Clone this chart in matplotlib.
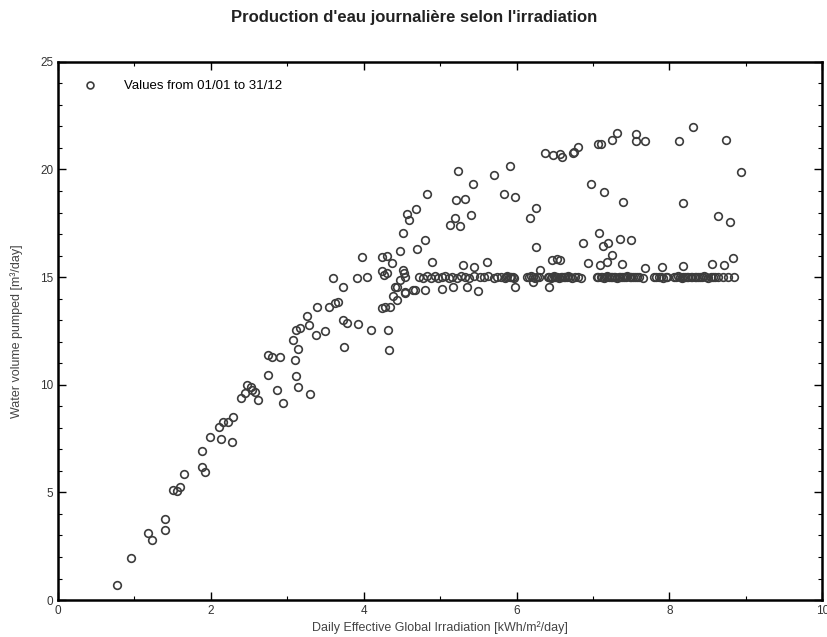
import matplotlib.pyplot as plt
from matplotlib.ticker import MultipleLocator

plt.rcParams['font.family'] = ['Liberation Sans', 'DejaVu Sans']

# rising part of the cloud (pump not yet saturated)
rise_x = [0.77, 0.96, 1.18, 1.23, 1.40, 1.40, 1.50, 1.56, 1.60, 1.65,
          1.89, 1.89, 1.92, 1.99, 2.13, 2.28, 2.11, 2.16, 2.23, 2.29,
          2.40, 2.47, 2.53, 2.58, 2.62, 2.54, 2.45, 2.86, 2.94, 2.75,
          2.75, 2.80, 2.90, 3.12, 3.14, 3.30, 3.10, 3.14, 3.08, 3.12,
          3.17, 3.26, 3.29, 3.38, 3.49, 3.39, 3.54, 3.63, 3.67, 3.60,
          3.73, 3.73, 3.78, 3.93, 3.74, 4.10, 4.32, 4.33, 4.24, 4.35,
          4.43, 3.91, 4.04, 3.98, 4.24, 4.30, 4.37, 4.24, 4.27, 4.43,
          4.48, 4.52, 4.54, 4.65, 4.39, 4.28, 4.41, 4.54, 4.30, 4.53,
          4.54, 4.67, 4.80]
rise_y = [0.70, 1.95, 3.10, 2.80, 3.76, 3.25, 5.10, 5.06, 5.25, 5.85,
          6.94, 6.18, 5.96, 7.57, 7.50, 7.34, 8.05, 8.27, 8.27, 8.50,
          9.38, 10.00, 9.90, 9.68, 9.30, 9.76, 9.60, 9.76, 9.17, 10.46,
          11.38, 11.28, 11.30, 10.41, 9.90, 9.57, 11.15, 11.66, 12.08, 12.55,
          12.64, 13.17, 12.78, 12.31, 12.51, 13.63, 13.63, 13.80, 13.86, 14.96,
          14.56, 13.00, 12.87, 12.83, 11.77, 12.55, 12.55, 11.62, 13.57, 13.63,
          13.94, 14.95, 15.02, 15.94, 15.95, 16.00, 15.66, 15.26, 15.10, 14.56,
          14.87, 15.33, 15.02, 14.40, 14.10, 13.63, 14.56, 14.28, 15.18, 15.18,
          14.33, 14.40, 14.40]

# upper branch and scattered high days
high_x = [4.47, 4.52, 4.57, 4.59, 4.69, 4.70, 4.80, 4.83, 5.13, 5.20,
          5.21, 5.24, 5.26, 5.33, 5.40, 5.43, 5.71, 5.84, 5.92, 5.98,
          6.18, 6.26, 6.26, 6.37, 6.48, 6.57, 6.59, 6.74, 6.75, 6.81,
          7.07, 7.10, 7.25, 7.31, 7.57, 7.57, 7.68, 8.12, 8.31, 8.74,
          8.94, 6.98, 7.14, 7.39, 8.18, 8.63, 8.80, 7.08, 6.87, 7.13,
          7.20, 7.35, 7.50, 7.25]
high_y = [16.23, 17.07, 17.94, 17.63, 18.17, 16.32, 16.73, 18.85, 17.43, 17.74,
          18.59, 19.95, 17.38, 18.62, 17.89, 19.31, 19.75, 18.85, 20.18, 18.71,
          17.74, 18.20, 16.39, 20.76, 20.68, 20.72, 20.60, 20.76, 20.83, 21.06,
          21.17, 21.20, 21.38, 21.69, 21.65, 21.30, 21.33, 21.30, 21.95, 21.38,
          19.86, 19.33, 18.97, 18.49, 18.46, 17.86, 17.55, 17.07, 16.60, 16.45,
          16.60, 16.76, 16.73, 16.03]

# days just above / below the 15 m3 plateau
near_x = [4.89, 5.30, 5.44, 5.62, 5.02, 5.17, 5.35, 5.50, 5.98, 6.22,
          6.42, 6.46, 6.53, 6.31, 6.57, 6.94, 7.09, 7.18, 7.38, 7.68,
          7.90, 8.18, 8.56, 8.72, 8.83]
near_y = [15.72, 15.57, 15.49, 15.72, 14.44, 14.56, 14.56, 14.37, 14.56, 14.79,
          14.56, 15.80, 15.85, 15.33, 15.80, 15.65, 15.57, 15.72, 15.61, 15.41,
          15.49, 15.52, 15.61, 15.57, 15.88]

# plateau at the pump capacity
flat_x = [4.72, 4.78, 4.83, 4.88, 4.93, 4.97, 5.02, 5.07, 5.12, 5.16,
          5.22, 5.27, 5.33, 5.38, 5.45, 5.52, 5.58, 5.63, 5.70, 5.75,
          5.80, 5.85, 5.88, 5.93, 5.97, 6.14, 6.19, 6.24, 6.30, 6.41,
          6.45, 6.49, 6.53, 6.56, 6.60, 6.64, 6.68, 6.72, 6.76, 6.80,
          6.85, 7.05, 7.10, 7.14, 7.19, 7.23, 7.27, 7.31, 7.36, 7.40,
          7.45, 7.50, 7.55, 7.60, 7.65, 7.80, 7.86, 7.92, 7.97, 8.06,
          8.11, 8.16, 8.20, 8.25, 8.30, 8.35, 8.40, 8.45, 8.51, 8.57,
          8.63, 8.70, 8.77, 8.84,
          5.86, 5.91, 5.95, 6.16, 6.21, 6.27, 6.43, 6.47, 6.51, 6.58,
          6.62, 6.66, 6.70, 7.07, 7.12, 7.17, 7.21, 7.25, 7.29, 7.34,
          7.38, 7.43, 7.48, 7.53, 7.58, 7.83, 7.89, 7.95, 8.09, 8.14,
          8.18, 8.23, 8.28, 8.33, 8.38, 8.43, 8.48, 8.54, 8.60]
flat_y = [15.02, 14.96, 15.05, 14.98, 15.03, 14.95, 15.00, 15.06, 14.97, 15.02,
          14.98, 15.04, 15.00, 14.96, 15.03, 14.99, 15.01, 15.05, 14.98, 15.00,
          15.02, 14.97, 15.03, 15.00, 14.98, 15.01, 15.04, 14.97, 15.00, 15.02,
          14.98, 15.03, 15.00, 14.96, 15.02, 15.00, 15.04, 14.98, 15.01, 15.00,
          14.97, 15.02, 15.00, 14.98, 15.03, 15.00, 15.01, 14.97, 15.02, 15.00,
          15.04, 14.99, 15.01, 15.00, 14.98, 15.02, 15.00, 14.97, 15.01, 15.00,
          15.03, 14.98, 15.00, 15.02, 14.99, 15.01, 15.00, 15.03, 14.98, 15.00,
          15.02, 14.99, 15.01, 15.00,
          15.00, 15.01, 14.99, 15.00, 15.01, 15.00, 14.99, 15.00, 15.01, 15.00,
          14.99, 15.00, 15.01, 15.00, 14.99, 15.00, 15.01, 15.00, 14.99, 15.00,
          15.01, 15.00, 14.99, 15.00, 15.01, 15.00, 14.99, 15.00, 15.01, 15.00,
          14.99, 15.00, 15.01, 15.00, 14.99, 15.00, 15.01, 15.00, 14.99]

xs = rise_x + high_x + near_x + flat_x
ys = rise_y + high_y + near_y + flat_y

fig = plt.figure(figsize=(8.28, 6.37), dpi=100)
ax = fig.add_axes([0.070, 0.058, 0.923, 0.845])

ax.plot(xs, ys, linestyle='none', marker='o', markersize=5.5,
        markerfacecolor='none', markeredgecolor='#3c3c3c', markeredgewidth=1.2,
        label='Values from 01/01 to 31/12')

ax.set_xlim(0, 10)
ax.set_ylim(0, 25)
ax.xaxis.set_major_locator(MultipleLocator(2))
ax.xaxis.set_minor_locator(MultipleLocator(1))
ax.yaxis.set_major_locator(MultipleLocator(5))
ax.yaxis.set_minor_locator(MultipleLocator(1))
ax.tick_params(which='both', direction='in', top=True, right=True,
               labelsize=8.5, labelcolor='#333333')
ax.tick_params(which='major', length=6, width=1)
ax.tick_params(which='minor', length=3, width=0.8)
for side in ax.spines.values():
    side.set_linewidth(1.8)

ax.set_xlabel('Daily Effective Global Irradiation [kWh/m\u00b2/day]',
              fontsize=9, color='#444444', labelpad=3)
ax.set_ylabel('Water volume pumped [m\u00b3/day]',
              fontsize=9, color='#444444', labelpad=12)
fig.suptitle("Production d'eau journalière selon l'irradiation",
             fontsize=12, fontweight='bold', y=0.985, color='#222222')

ax.legend(loc='upper left', frameon=False, fontsize=9.5, handletextpad=1.6,
          borderaxespad=0.8, borderpad=0.6, markerscale=0.9)

fig.savefig('out.png', dpi=100)
